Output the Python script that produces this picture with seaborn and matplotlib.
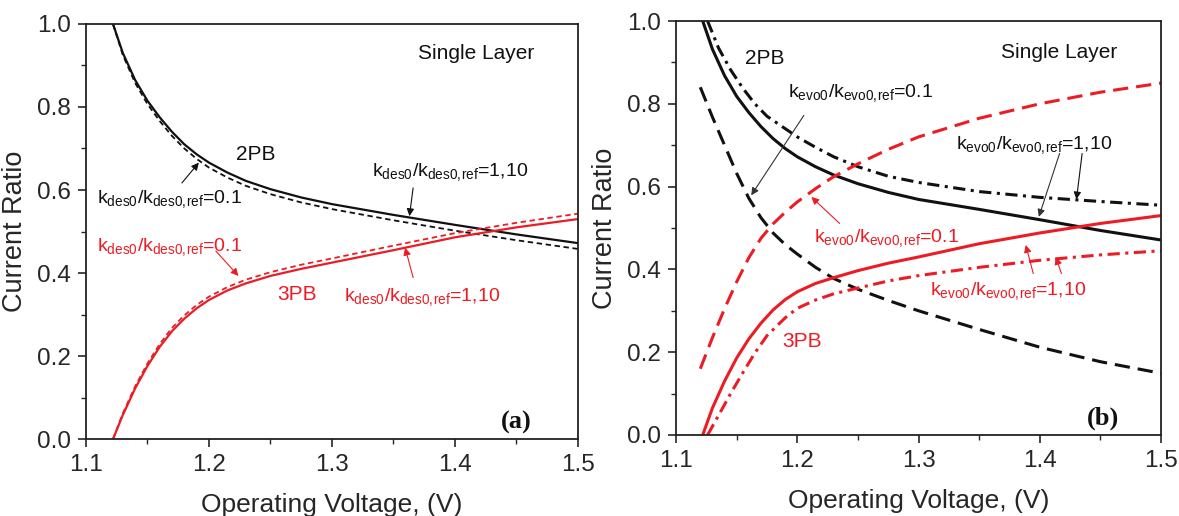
import numpy as np
import pandas as pd
import seaborn as sns
import matplotlib.pyplot as plt
from matplotlib.ticker import MultipleLocator, FormatStrFormatter

# %%
# panel (a): k_des0 variation
xa = [1.122, 1.13, 1.14, 1.15, 1.16, 1.17, 1.18, 1.19, 1.2, 1.215, 1.23, 1.25, 1.275, 1.3, 1.35, 1.4, 1.45, 1.5]
a_2pb_solid = [1.0, 0.93, 0.865, 0.815, 0.775, 0.74, 0.71, 0.686, 0.666, 0.642, 0.622, 0.602, 0.582, 0.566, 0.540, 0.516, 0.493, 0.472]
a_2pb_dash = [1.0, 0.925, 0.858, 0.807, 0.766, 0.73, 0.70, 0.675, 0.654, 0.63, 0.61, 0.59, 0.57, 0.554, 0.527, 0.502, 0.479, 0.458]
a_3pb_solid = [0.0, 0.058, 0.122, 0.176, 0.222, 0.26, 0.29, 0.315, 0.335, 0.358, 0.375, 0.393, 0.41, 0.425, 0.455, 0.486, 0.51, 0.53]
a_3pb_dash = [0.0, 0.062, 0.127, 0.182, 0.229, 0.268, 0.298, 0.323, 0.343, 0.366, 0.384, 0.402, 0.42, 0.435, 0.466, 0.496, 0.521, 0.543]

# panel (b): k_evo0 variation
xb_solid = [1.122, 1.13, 1.14, 1.15, 1.16, 1.17, 1.18, 1.19, 1.2, 1.215, 1.23, 1.25, 1.275, 1.3, 1.35, 1.4, 1.45, 1.5]
b_2pb_solid = [1.0, 0.932, 0.868, 0.818, 0.779, 0.745, 0.716, 0.692, 0.672, 0.648, 0.628, 0.607, 0.586, 0.569, 0.545, 0.52, 0.494, 0.471]
b_3pb_solid = [0.0, 0.065, 0.13, 0.186, 0.232, 0.27, 0.302, 0.327, 0.346, 0.366, 0.38, 0.397, 0.415, 0.43, 0.462, 0.488, 0.511, 0.53]

xb_dashdot = [1.126, 1.135, 1.145, 1.155, 1.165, 1.175, 1.19, 1.2, 1.215, 1.23, 1.25, 1.275, 1.3, 1.35, 1.4, 1.45, 1.5]
b_2pb_dashdot = [1.0, 0.935, 0.882, 0.838, 0.80, 0.77, 0.74, 0.72, 0.695, 0.672, 0.648, 0.625, 0.61, 0.588, 0.574, 0.564, 0.555]
b_3pb_dashdot = [0.0, 0.047, 0.10, 0.15, 0.198, 0.24, 0.283, 0.306, 0.326, 0.341, 0.355, 0.372, 0.385, 0.405, 0.422, 0.435, 0.445]

xb_dash = [1.12, 1.13, 1.14, 1.15, 1.16, 1.17, 1.18, 1.19, 1.2, 1.215, 1.23, 1.25, 1.275, 1.3, 1.35, 1.4, 1.45, 1.5]
b_2pb_dash = [0.84, 0.768, 0.70, 0.632, 0.572, 0.525, 0.488, 0.46, 0.437, 0.405, 0.378, 0.352, 0.325, 0.30, 0.255, 0.212, 0.177, 0.149]
b_3pb_dash = [0.16, 0.235, 0.305, 0.37, 0.428, 0.475, 0.51, 0.538, 0.563, 0.595, 0.624, 0.655, 0.69, 0.72, 0.765, 0.80, 0.828, 0.85]

# %%
sns.set_style("ticks")
plt.rcParams['font.family'] = ['Liberation Sans', 'DejaVu Sans']
plt.rcParams['mathtext.fontset'] = 'custom'
plt.rcParams['mathtext.rm'] = 'Liberation Sans'
plt.rcParams['mathtext.it'] = 'Liberation Sans:italic'
plt.rcParams['mathtext.bf'] = 'Liberation Sans:bold'

RED = '#ec1c24'
BLK = '#111111'

fig = plt.figure(figsize=(11.79, 5.16), dpi=100)
ax1 = fig.add_axes([0.0729, 0.1492, 0.4173, 0.8043])
ax2 = fig.add_axes([0.5734, 0.1570, 0.4114, 0.8023])


def style_axes(ax):
    ax.set_xlim(1.1, 1.5)
    ax.set_ylim(0.0, 1.0)
    ax.xaxis.set_major_locator(MultipleLocator(0.1))
    ax.xaxis.set_minor_locator(MultipleLocator(0.05))
    ax.yaxis.set_major_locator(MultipleLocator(0.2))
    ax.yaxis.set_minor_locator(MultipleLocator(0.1))
    ax.xaxis.set_major_formatter(FormatStrFormatter('%.1f'))
    ax.yaxis.set_major_formatter(FormatStrFormatter('%.1f'))
    ax.tick_params(which='major', direction='out', length=6, width=1.2, labelsize=17.5, pad=5)
    ax.tick_params(which='minor', direction='out', length=3.5, width=1.0)
    for s in ax.spines.values():
        s.set_visible(True)
        s.set_linewidth(1.3)
        s.set_color('#222222')
    ax.set_xlabel('Operating Voltage, (V)', fontsize=19, labelpad=12)
    ax.set_ylabel('Current Ratio', fontsize=19.5, labelpad=6)


def arrow(ax, tail, head, color, lw=0.8):
    ax.annotate('', xy=head, xytext=tail,
                arrowprops=dict(arrowstyle='-|>', color=color, lw=lw,
                                mutation_scale=11, shrinkA=0, shrinkB=0))


# %% panel (a)
sns.lineplot(x=xa, y=a_2pb_dash, ax=ax1, color=BLK, lw=1.3, linestyle=(0, (3.0, 2.0)), sort=False)
sns.lineplot(x=xa, y=a_2pb_solid, ax=ax1, color=BLK, lw=1.6, sort=False)
sns.lineplot(x=xa, y=a_3pb_dash, ax=ax1, color=RED, lw=1.3, linestyle=(0, (3.0, 2.0)), sort=False)
sns.lineplot(x=xa, y=a_3pb_solid, ax=ax1, color=RED, lw=1.6, sort=False)
style_axes(ax1)

lab_des = r'$\mathrm{k_{des0}/k_{des0,\!ref}}$'
ax1.text(1.417, 0.93, 'Single Layer', fontsize=15, ha='center', va='center', color=BLK)
ax1.text(1.238, 0.686, '2PB', fontsize=15, ha='center', va='center', color=BLK)
ax1.text(1.2714, 0.349, '3PB', fontsize=15, ha='center', va='center', color=RED)
ax1.text(1.3326, 0.634, lab_des + '=1,10', fontsize=14, ha='left', va='baseline', color=BLK)
ax1.text(1.1086, 0.569, lab_des + '=0.1', fontsize=14, ha='left', va='baseline', color=BLK)
ax1.text(1.1086, 0.453, lab_des + '=0.1', fontsize=14, ha='left', va='baseline', color=RED)
ax1.text(1.3096, 0.333, lab_des + '=1,10', fontsize=14, ha='left', va='baseline', color=RED)
arrow(ax1, (1.178, 0.617), (1.1918, 0.666), BLK)
arrow(ax1, (1.366, 0.605), (1.363, 0.537), BLK)
arrow(ax1, (1.2056, 0.453), (1.224, 0.393), RED)
arrow(ax1, (1.366, 0.389), (1.3595, 0.461), RED)
ax1.text(1.45, 0.04, '(a)', fontsize=19, fontweight='bold', family='Liberation Serif',
         ha='center', va='center', color=BLK)

# %% panel (b)
dash_b = (0, (5.0, 2.6))
dashdot_b = (0, (4.0, 1.8, 1.0, 1.8))
sns.lineplot(x=xb_dash, y=b_2pb_dash, ax=ax2, color=BLK, lw=2.2, linestyle=dash_b, sort=False)
sns.lineplot(x=xb_dashdot, y=b_2pb_dashdot, ax=ax2, color=BLK, lw=2.2, linestyle=dashdot_b, sort=False)
sns.lineplot(x=xb_solid, y=b_2pb_solid, ax=ax2, color=BLK, lw=2.2, sort=False)
sns.lineplot(x=xb_dash, y=b_3pb_dash, ax=ax2, color=RED, lw=2.2, linestyle=dash_b, sort=False)
sns.lineplot(x=xb_dashdot, y=b_3pb_dashdot, ax=ax2, color=RED, lw=2.2, linestyle=dashdot_b, sort=False)
sns.lineplot(x=xb_solid, y=b_3pb_solid, ax=ax2, color=RED, lw=2.2, sort=False)
style_axes(ax2)

lab_evo = r'$\mathrm{k_{evo0}/k_{evo0,\!ref}}$'
ax2.text(1.4163, 0.925, 'Single Layer', fontsize=15, ha='center', va='center', color=BLK)
ax2.text(1.1729, 0.909, '2PB', fontsize=15, ha='center', va='center', color=BLK)
ax2.text(1.2039, 0.225, '3PB', fontsize=15, ha='center', va='center', color=RED)
ax2.text(1.1924, 0.817, lab_evo + '=0.1', fontsize=14, ha='left', va='baseline', color=BLK)
ax2.text(1.331, 0.692, lab_evo + '=1,10', fontsize=14, ha='left', va='baseline', color=BLK)
ax2.text(1.2141, 0.467, lab_evo + '=0.1', fontsize=14, ha='left', va='baseline', color=RED)
ax2.text(1.3093, 0.338, lab_evo + '=1,10', fontsize=14, ha='left', va='baseline', color=RED)
arrow(ax2, (1.2054, 0.772), (1.162, 0.579), '#333333')
arrow(ax2, (1.4163, 0.68), (1.3992, 0.527), '#333333')
arrow(ax2, (1.4349, 0.68), (1.4302, 0.569), BLK)
arrow(ax2, (1.2349, 0.511), (1.2116, 0.575), RED)
arrow(ax2, (1.3946, 0.39), (1.3884, 0.459), RED)
arrow(ax2, (1.4178, 0.39), (1.4132, 0.43), RED)
ax2.text(1.452, 0.04, '(b)', fontsize=19, fontweight='bold', family='Liberation Serif',
         ha='center', va='center', color=BLK)

plt.savefig('out.png', dpi=100)
